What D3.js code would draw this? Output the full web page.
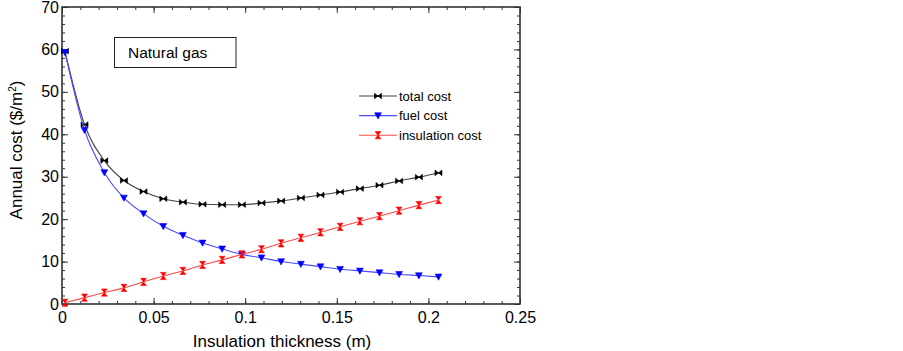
<!DOCTYPE html>
<html>
<head>
<meta charset="utf-8">
<script src="https://cdn.jsdelivr.net/npm/d3@7"></script>
<style>
  body { margin: 0; background: #fff; }
  svg { display: block; font-family: Arial, "Liberation Sans", sans-serif; }
</style>
</head>
<body>
<div class="chart"></div>
<script>
// data
const thickness = [0.0016, 0.0123, 0.0231, 0.0338, 0.0445, 0.0553, 0.066, 0.0767, 0.0874, 0.0982,
  0.1089, 0.1196, 0.1304, 0.1411, 0.1518, 0.1626, 0.1733, 0.184, 0.1948, 0.2055];
const totalCost = [59.6, 42.3, 33.8, 29.1, 26.5, 24.8, 24.0, 23.5, 23.4, 23.4,
  23.8, 24.3, 25.0, 25.7, 26.4, 27.2, 28.0, 29.0, 29.9, 30.9];
const fuelCost = [59.3, 41.0, 31.0, 25.0, 21.3, 18.3, 16.2, 14.4, 13.0, 11.7,
  10.9, 10.0, 9.4, 8.8, 8.2, 7.8, 7.4, 7.0, 6.7, 6.4];
const insulationCost = [0.3, 1.5, 2.7, 3.8, 5.2, 6.6, 7.8, 9.2, 10.4, 11.7,
  12.9, 14.3, 15.6, 16.9, 18.2, 19.5, 20.7, 22.0, 23.3, 24.5];
const xTicks = [0, 0.05, 0.1, 0.15, 0.2, 0.25];
const yTicks = [0, 10, 20, 30, 40, 50, 60, 70];
const seriesNames = ["total cost", "fuel cost", "insulation cost"];

const W = 903, H = 351;
const margin = { top: 7, right: 383, bottom: 47, left: 62 };
const width = W - margin.left - margin.right;
const height = H - margin.top - margin.bottom;

const svg = d3.select(".chart").append("svg")
  .attr("width", W).attr("height", H);
const g = svg.append("g").attr("transform", `translate(${margin.left},${margin.top})`);

const x = d3.scaleLinear().domain([0, 0.25]).range([0, width]);
const y = d3.scaleLinear().domain([0, 70]).range([height, 0]);

// marker shapes
const shapes = {
  bowtie: "M-3.5,-2.8L0,0L-3.5,2.8ZM3.5,-2.8L0,0L3.5,2.8ZM-3.5,0H3.5",
  down: "M-3.4,-2.8L3.4,-2.8L0,3.4Z",
  hourglass: "M-2.9,-3.6L2.9,-3.6L0,0ZM-2.9,3.6L2.9,3.6L0,0Z"
};

const series = [
  { name: seriesNames[0], values: totalCost, line: "#444", fill: "#000", shape: shapes.bowtie },
  { name: seriesNames[1], values: fuelCost, line: "#4a4aff", fill: "#0000ff", shape: shapes.down },
  { name: seriesNames[2], values: insulationCost, line: "#ff4a4a", fill: "#ff0000", shape: shapes.hourglass }
];

// minor ticks
const xMinor = d3.range(0, 0.2501, 0.01);
const yMinor = d3.range(0, 70.01, 2);
const axisColor = "#333";

function styleAxis(sel) {
  sel.selectAll("line").attr("stroke", axisColor);
  sel.select(".domain").remove();
}

g.append("g").attr("transform", `translate(0,${height})`)
  .call(d3.axisBottom(x).tickValues(xMinor).tickSize(-3).tickFormat("")).call(styleAxis);
g.append("g")
  .call(d3.axisTop(x).tickValues(xMinor).tickSize(-3).tickFormat("")).call(styleAxis);
g.append("g")
  .call(d3.axisLeft(y).tickValues(yMinor).tickSize(-3).tickFormat("")).call(styleAxis);
g.append("g").attr("transform", `translate(${width},0)`)
  .call(d3.axisRight(y).tickValues(yMinor).tickSize(-3).tickFormat("")).call(styleAxis);

// major ticks
g.append("g").attr("transform", `translate(0,${height})`)
  .call(d3.axisBottom(x).tickValues(xTicks).tickSize(-6).tickPadding(8).tickFormat(d => d3.format("~g")(d)))
  .call(styleAxis)
  .selectAll("text").attr("font-size", 16).attr("fill", "#000");
g.append("g")
  .call(d3.axisTop(x).tickValues(xTicks).tickSize(-6).tickFormat("")).call(styleAxis);
g.append("g")
  .call(d3.axisLeft(y).tickValues(yTicks).tickSize(-6).tickPadding(3))
  .call(styleAxis)
  .selectAll("text").attr("font-size", 16).attr("fill", "#000");
g.append("g").attr("transform", `translate(${width},0)`)
  .call(d3.axisRight(y).tickValues(yTicks).tickSize(-6).tickFormat("")).call(styleAxis);

// frame
g.append("rect").attr("width", width).attr("height", height)
  .attr("fill", "none").attr("stroke", axisColor).attr("stroke-width", 1.6);

// lines and markers
const line = d3.line().curve(d3.curveMonotoneX)
  .x((d, i) => x(thickness[i])).y(d => y(d));

series.forEach(s => {
  g.append("path").datum(s.values)
    .attr("d", line).attr("fill", "none")
    .attr("stroke", s.line).attr("stroke-width", 1.1);
  g.selectAll(null).data(s.values).enter().append("path")
    .attr("d", s.shape)
    .attr("transform", (d, i) => `translate(${x(thickness[i])},${y(d)})`)
    .attr("fill", s.fill).attr("stroke", s.fill).attr("stroke-width", 0.6);
});

// legend
const legend = g.append("g").attr("transform", `translate(${359 - margin.left},${96 - margin.top})`);
series.forEach((s, i) => {
  const row = legend.append("g").attr("transform", `translate(0,${i * 19.6})`);
  row.append("line").attr("x1", 0).attr("x2", 38).attr("stroke", s.line).attr("stroke-width", 1.1);
  row.append("path").attr("d", s.shape).attr("transform", "translate(19,0)")
    .attr("fill", s.fill).attr("stroke", s.fill).attr("stroke-width", 0.6);
  row.append("text").attr("x", 40).attr("dy", "0.35em")
    .attr("font-size", 13).attr("fill", "#000").text(s.name);
});

// annotation box
svg.append("rect").attr("x", 114.5).attr("y", 37.5).attr("width", 121.5).attr("height", 30)
  .attr("fill", "#fff").attr("stroke", "#222").attr("stroke-width", 1);
svg.append("text").attr("x", 128).attr("y", 57.5)
  .attr("font-size", 15.5).attr("fill", "#000").text("Natural gas");

// axis titles
svg.append("text").attr("x", 282).attr("y", 347)
  .attr("text-anchor", "middle").attr("font-size", 17).text("Insulation thickness (m)");
const yt = svg.append("text")
  .attr("transform", "translate(22,150) rotate(-90)")
  .attr("text-anchor", "middle").attr("font-size", 17);
yt.append("tspan").text("Annual cost ($/m");
yt.append("tspan").attr("font-size", 10).attr("dy", "-0.6em").text("2");
yt.append("tspan").attr("dy", "0.35em").text(")");
</script>
</body>
</html>
